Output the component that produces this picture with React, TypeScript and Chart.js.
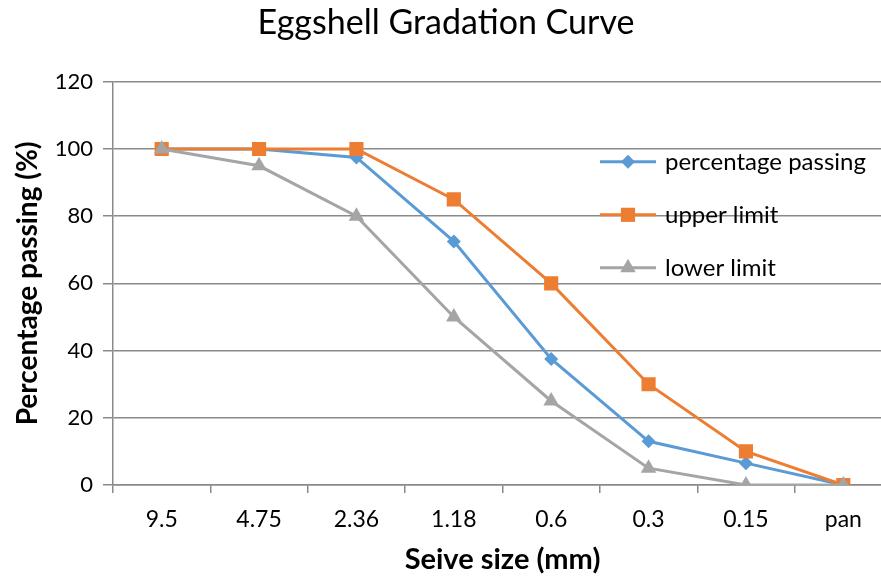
import React, { useEffect, useRef } from "react";
import { Chart, registerables } from "chart.js";

Chart.register(...registerables);

const sieveSizes = ["9.5", "4.75", "2.36", "1.18", "0.6", "0.3", "0.15", "pan"];
const percentagePassing = [100, 100, 97.5, 72.5, 37.5, 13, 6.5, 0];
const upperLimit = [100, 100, 100, 85, 60, 30, 10, 0];
const lowerLimit = [100, 95, 80, 50, 25, 5, 0, 0];
const seriesNames = ["percentage passing", "upper limit", "lower limit"];
const yTicks = [0, 20, 40, 60, 80, 100, 120];

const BLUE = "#5B9BD5";
const ORANGE = "#ED7D31";
const GRAY = "#A5A5A5";
const GRID = "#8a8a8a";
const FONT = "Lato, 'Open Sans', sans-serif";

function drawMarker(ctx: CanvasRenderingContext2D, style: string, x: number, y: number, r: number, color: string) {
  ctx.save();
  ctx.fillStyle = color;
  ctx.beginPath();
  if (style === "rect") {
    const s = Math.SQRT1_2 * r;
    ctx.rect(x - s, y - s, 2 * s, 2 * s);
  } else if (style === "rectRot") {
    ctx.moveTo(x, y - r);
    ctx.lineTo(x + r, y);
    ctx.lineTo(x, y + r);
    ctx.lineTo(x - r, y);
    ctx.closePath();
  } else {
    ctx.moveTo(x, y - r);
    ctx.lineTo(x + r * Math.cos(Math.PI / 6), y + r * Math.sin(Math.PI / 6));
    ctx.lineTo(x - r * Math.cos(Math.PI / 6), y + r * Math.sin(Math.PI / 6));
    ctx.closePath();
  }
  ctx.fill();
  ctx.restore();
}

const insideLegend = {
  id: "insideLegend",
  afterDraw(chart: any) {
    const { ctx, chartArea } = chart;
    const x0 = chartArea.left + 487;
    const y0 = chartArea.top + 80;
    const step = 53;
    chart.data.datasets.forEach((ds: any, i: number) => {
      const y = y0 + i * step;
      ctx.save();
      ctx.strokeStyle = ds.borderColor;
      ctx.lineWidth = 3;
      ctx.beginPath();
      ctx.moveTo(x0, y);
      ctx.lineTo(x0 + 56, y);
      ctx.stroke();
      drawMarker(ctx, ds.pointStyle, x0 + 28, y, ds.pointRadius, ds.backgroundColor);
      ctx.fillStyle = "#000";
      ctx.font = `24px ${FONT}`;
      ctx.textAlign = "left";
      ctx.textBaseline = "middle";
      ctx.fillText(ds.label, x0 + 65, y);
      ctx.restore();
    });
  },
};

export default function App() {
  const ref = useRef<HTMLCanvasElement>(null);
  useEffect(() => {
    if (!ref.current) return;
    Chart.defaults.font.family = FONT;
    const chart = new Chart(ref.current, {
      type: "line",
      data: {
        labels: sieveSizes,
        datasets: [
          {
            label: seriesNames[0],
            data: percentagePassing,
            borderColor: BLUE,
            backgroundColor: BLUE,
            borderWidth: 3,
            pointStyle: "rectRot",
            pointRadius: 7,
            pointBorderWidth: 0,
            tension: 0,
            order: 2,
          },
          {
            label: seriesNames[1],
            data: upperLimit,
            borderColor: ORANGE,
            backgroundColor: ORANGE,
            borderWidth: 3,
            pointStyle: "rect",
            pointRadius: 10,
            pointBorderWidth: 0,
            tension: 0,
            order: 1,
          },
          {
            label: seriesNames[2],
            data: lowerLimit,
            borderColor: GRAY,
            backgroundColor: GRAY,
            borderWidth: 3,
            pointStyle: "triangle",
            pointRadius: 9,
            pointBorderWidth: 0,
            tension: 0,
            order: 0,
          },
        ] as any,
      },
      options: {
        responsive: false,
        animation: false,
        devicePixelRatio: 1,
        layout: { padding: 0, autoPadding: false },
        plugins: {
          legend: { display: false },
          tooltip: { enabled: false },
          title: {
            display: true,
            text: "Eggshell Gradation Curve",
            color: "#000",
            font: { size: 34, weight: "normal", family: FONT },
            padding: { top: 3, bottom: 38 },
          },
        },
        scales: {
          x: {
            type: "category",
            offset: true,
            grid: {
              display: true,
              drawOnChartArea: false,
              drawTicks: true,
              tickLength: 8,
              offset: true,
              color: GRID,
              lineWidth: 1.5,
            },
            border: { display: true, color: GRID, width: 1.5 },
            ticks: { color: "#000", font: { size: 23 }, padding: 13, maxRotation: 0 },
            title: {
              display: true,
              text: "Seive size (mm)",
              color: "#000",
              font: { size: 29, weight: "bold" },
              padding: { top: 0, bottom: 2 },
            },
            afterFit: (s: any) => {
              s.height = 94;
              s.paddingLeft = 0;
              s.paddingRight = 0;
            },
          },
          y: {
            min: 0,
            max: 120,
            afterBuildTicks: (s: any) => {
              s.ticks = yTicks.map((v) => ({ value: v }));
            },
            grid: { color: GRID, lineWidth: 1.5, drawTicks: true, tickLength: 10 },
            border: { display: true, color: GRID, width: 1.5 },
            ticks: { color: "#000", font: { size: 22 }, padding: 10 },
            title: {
              display: true,
              text: "Percentage passing (%)",
              color: "#000",
              font: { size: 28, weight: "bold" },
              padding: { top: 11, bottom: 0 },
            },
            afterFit: (s: any) => {
              s.width = 113;
            },
          },
        },
      } as any,
      plugins: [insideLegend],
    });
    return () => chart.destroy();
  }, []);
  return (
    <div style={{ position: "fixed", left: 0, top: 0, width: 881, height: 579, overflow: "hidden", background: "#fff" }}>
      <div style={{ width: 892, height: 579 }}>
        <canvas ref={ref} width={892} height={579} style={{ display: "block", width: 892, height: 579 }} />
      </div>
    </div>
  );
}
